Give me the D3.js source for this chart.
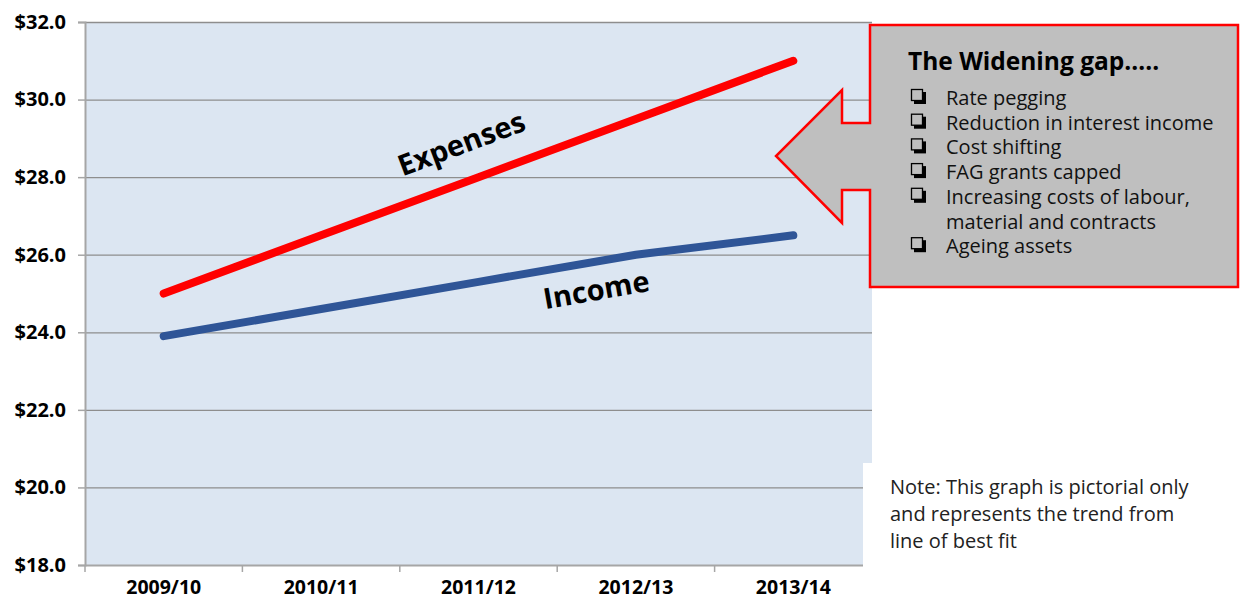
<!DOCTYPE html>
<html>
<head>
<meta charset="utf-8">
<script src="https://cdn.jsdelivr.net/npm/d3@7"></script>
<style>
  body { margin: 0; background: #fff; }
  svg text { font-family: "Open Sans", "Noto Sans", sans-serif; }
</style>
</head>
<body>
<svg id="chart"></svg>
<script>
// chart data
const years = ['2009/10', '2010/11', '2011/12', '2012/13', '2013/14'];
const expenses = [25.0, 26.5, 28.0, 29.5, 31.0];
const income = [23.9, 24.6, 25.3, 26.0, 26.5];
const yTicks = [18, 20, 22, 24, 26, 28, 30, 32];
const gapTitle = 'The Widening gap…..';
const gapItems = ['Rate pegging', 'Reduction in interest income', 'Cost shifting',
  'FAG grants capped', 'Increasing costs of labour,|material and contracts', 'Ageing assets'];
const noteLines = ['Note: This graph is pictorial only', 'and represents the trend from', 'line of best fit'];

const width = 1243;
const height = 600;
const margin = {top: 22, right: 371, bottom: 35, left: 85};

const svg = d3.select('#chart')
	.attr('width', width)
	.attr('height', height);

const x = d3.scaleBand().domain(years).range([margin.left, width - margin.right]);
const y = d3.scaleLinear().domain([18, 32]).range([height - margin.bottom, margin.top]);

// plot background
svg.append('rect')
	.attr('x', margin.left)
	.attr('y', y(32))
	.attr('width', x.range()[1] - margin.left)
	.attr('height', y(18) - y(32))
	.attr('fill', '#dce6f2');

// gridlines
svg.append('g')
	.selectAll('line')
	.data(yTicks.filter(d => d > 18))
	.join('line')
	.attr('x1', margin.left)
	.attr('x2', x.range()[1])
	.attr('y1', d => y(d) + 0.5)
	.attr('y2', d => y(d) + 0.5)
	.attr('stroke', '#8e8e8e')
	.attr('stroke-width', 1.3);

// y axis
const yAxis = svg.append('g')
	.attr('transform', `translate(${margin.left},0)`)
	.call(d3.axisLeft(y).tickValues(yTicks).tickSize(7).tickPadding(12)
		.tickFormat(d => '$' + d3.format('.1f')(d)));
yAxis.select('.domain').attr('stroke', '#a6a6a6').attr('stroke-width', 2);
yAxis.selectAll('.tick line').attr('stroke', '#a6a6a6').attr('stroke-width', 1.5);
yAxis.selectAll('.tick text')
	.attr('font-size', 20).attr('font-weight', 700).attr('fill', '#000');

// x axis with ticks between categories
const xAxis = svg.append('g')
	.attr('transform', `translate(0,${y(18)})`)
	.call(d3.axisBottom(x).tickSize(0).tickPadding(15));
xAxis.select('.domain').attr('stroke', '#a6a6a6').attr('stroke-width', 2);
xAxis.selectAll('.tick text')
	.attr('font-size', 19.5).attr('font-weight', 700).attr('fill', '#000');
xAxis.selectAll('.sep')
	.data(years.concat(['end']))
	.join('line')
	.attr('class', 'sep')
	.attr('x1', (d, i) => i < years.length ? x(d) : x.range()[1])
	.attr('x2', (d, i) => i < years.length ? x(d) : x.range()[1])
	.attr('y1', 0)
	.attr('y2', 7)
	.attr('stroke', '#a6a6a6')
	.attr('stroke-width', 1.5);

const line = d3.line()
	.x((d, i) => x(years[i]) + x.bandwidth() / 2)
	.y(d => y(d));

svg.append('path')
	.datum(expenses)
	.attr('d', line)
	.attr('fill', 'none')
	.attr('stroke', '#ff0000')
	.attr('stroke-width', 8)
	.attr('stroke-linecap', 'round');

svg.append('path')
	.datum(income)
	.attr('d', line)
	.attr('fill', 'none')
	.attr('stroke', '#2f5597')
	.attr('stroke-width', 8)
	.attr('stroke-linecap', 'round');

// series labels
svg.append('text')
	.attr('transform', 'translate(465,153) rotate(-20.5)')
	.attr('text-anchor', 'middle')
	.attr('font-size', 29).attr('font-weight', 700)
	.text('Expenses');

svg.append('text')
	.attr('transform', 'translate(598,300) rotate(-10)')
	.attr('text-anchor', 'middle')
	.attr('font-size', 29).attr('font-weight', 700)
	.text('Income');

// white box behind the note
svg.append('rect')
	.attr('x', 863).attr('y', 463)
	.attr('width', width - 863).attr('height', height - 463)
	.attr('fill', '#fff');

// callout arrow
const arrow = [[870, 25], [1238, 25], [1238, 287], [870, 287], [870, 190], [842, 190],
	[842, 223], [776, 156], [842, 90], [842, 123], [870, 123]];
svg.append('path')
	.attr('d', d3.line()(arrow) + 'Z')
	.attr('fill', '#bfbfbf')
	.attr('stroke', '#ff0000')
	.attr('stroke-width', 2.5);

svg.append('text')
	.attr('x', 908).attr('y', 70)
	.attr('font-size', 24.5).attr('font-weight', 700)
	.text(gapTitle);

let row = 0;
gapItems.forEach(item => {
	const parts = item.split('|');
	const by = 105 + row * 24.7;
	// shadowed box bullet
	svg.append('rect')
		.attr('x', 914).attr('y', by - 13)
		.attr('width', 12).attr('height', 12)
		.attr('fill', '#000');
	svg.append('rect')
		.attr('x', 911.5).attr('y', by - 15.5)
		.attr('width', 11).attr('height', 11)
		.attr('fill', '#bfbfbf')
		.attr('stroke', '#000')
		.attr('stroke-width', 1.3);
	parts.forEach(p => {
		svg.append('text')
			.attr('x', 946).attr('y', 105 + row * 24.7)
			.attr('font-size', 20)
			.attr('fill', '#111')
			.text(p);
		row++;
	});
});

svg.append('g')
	.selectAll('text')
	.data(noteLines)
	.join('text')
	.attr('x', 890)
	.attr('y', (d, i) => 494 + i * 27)
	.attr('font-size', 20)
	.attr('fill', '#222')
	.text(d => d);
</script>
</body>
</html>
